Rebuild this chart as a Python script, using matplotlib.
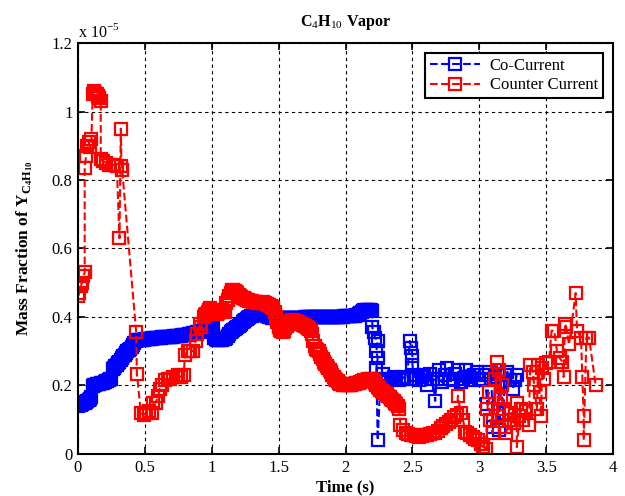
import matplotlib.pyplot as plt

plt.rcParams["font.family"] = ["Liberation Serif", "DejaVu Serif"]
plt.rcParams["mathtext.fontset"] = "custom"
plt.rcParams["mathtext.rm"] = "Liberation Serif"
plt.rcParams["mathtext.bf"] = "Liberation Serif:bold"

# mass fraction values in units of 1e-5
co_t = [0.00, 0.01, 0.02, 0.03, 0.04, 0.05, 0.06, 0.07, 0.08, 0.09,
        0.10, 0.11, 0.12, 0.13, 0.14, 0.15, 0.16, 0.17, 0.18, 0.19,
        0.20, 0.21, 0.22, 0.23, 0.24, 0.25, 0.26, 0.27, 0.28, 0.29,
        0.30, 0.31, 0.32, 0.33, 0.34, 0.35, 0.36, 0.37, 0.38, 0.39,
        0.40, 0.41, 0.42, 0.43, 0.44, 0.45, 0.46, 0.47, 0.48, 0.49,
        0.50, 0.51, 0.52, 0.53, 0.54, 0.55, 0.56, 0.57, 0.58, 0.59,
        0.60, 0.61, 0.62, 0.63, 0.64, 0.65, 0.66, 0.67, 0.68, 0.69,
        0.70, 0.71, 0.72, 0.73, 0.74, 0.75, 0.76, 0.77, 0.78, 0.79,
        0.80, 0.81, 0.82, 0.83, 0.84, 0.85, 0.86, 0.87, 0.88, 0.89,
        0.90, 0.91, 0.92, 0.93, 0.94, 0.95, 0.96, 0.97, 0.98, 0.99,
        1.00, 1.01, 1.02, 1.03, 1.04, 1.05, 1.06, 1.07, 1.08, 1.09,
        1.10, 1.11, 1.12, 1.13, 1.14, 1.15, 1.16, 1.17, 1.18, 1.19,
        1.20, 1.21, 1.22, 1.23, 1.24, 1.25, 1.26, 1.27, 1.28, 1.29,
        1.30, 1.31, 1.32, 1.33, 1.34, 1.35, 1.36, 1.37, 1.38, 1.39,
        1.40, 1.41, 1.42, 1.43, 1.44, 1.45, 1.46, 1.47, 1.48, 1.49,
        1.50, 1.51, 1.52, 1.53, 1.54, 1.55, 1.56, 1.57, 1.58, 1.59,
        1.60, 1.61, 1.62, 1.63, 1.64, 1.65, 1.66, 1.67, 1.68, 1.69,
        1.70, 1.71, 1.72, 1.73, 1.74, 1.75, 1.76, 1.77, 1.78, 1.79,
        1.80, 1.81, 1.82, 1.83, 1.84, 1.85, 1.86, 1.87, 1.88, 1.89,
        1.90, 1.91, 1.92, 1.93, 1.94, 1.95, 1.96, 1.97, 1.98, 1.99,
        2.00, 2.01, 2.02, 2.03, 2.04, 2.05, 2.06, 2.07, 2.08, 2.09,
        2.10, 2.11, 2.12, 2.13, 2.14, 2.15, 2.16, 2.17, 2.18, 2.19,
        2.20, 2.20, 2.21, 2.22, 2.24, 2.23, 2.24, 2.23, 2.24, 2.26,
        2.28, 2.30, 2.32, 2.34, 2.36, 2.38, 2.40, 2.42, 2.44, 2.46,
        2.48, 2.49, 2.50, 2.50, 2.51, 2.53, 2.55, 2.57, 2.59, 2.61,
        2.63, 2.65, 2.67, 2.68, 2.70, 2.72, 2.74, 2.76, 2.78, 2.80,
        2.82, 2.84, 2.86, 2.88, 2.90, 2.92, 2.94, 2.96, 2.98, 3.00,
        3.02, 3.04, 3.06, 3.07, 3.09, 3.10, 3.12, 3.14, 3.15, 3.16,
        3.18, 3.19, 3.21, 3.23, 3.25, 3.27, 3.28]
co_y = [0.140, 0.142, 0.144, 0.146, 0.148, 0.150, 0.152, 0.155, 0.158, 0.162,
        0.165, 0.198, 0.200, 0.202, 0.203, 0.204, 0.205, 0.206, 0.207, 0.208,
        0.210, 0.212, 0.214, 0.216, 0.218, 0.220, 0.248, 0.252, 0.256, 0.260,
        0.265, 0.270, 0.275, 0.280, 0.285, 0.290, 0.295, 0.300, 0.305, 0.308,
        0.312, 0.318, 0.324, 0.330, 0.332, 0.332, 0.333, 0.333, 0.334, 0.334,
        0.335, 0.335, 0.336, 0.336, 0.337, 0.337, 0.338, 0.338, 0.339, 0.339,
        0.340, 0.340, 0.340, 0.341, 0.341, 0.341, 0.342, 0.342, 0.342, 0.343,
        0.343, 0.343, 0.344, 0.344, 0.344, 0.345, 0.345, 0.345, 0.346, 0.346,
        0.347, 0.347, 0.348, 0.349, 0.350, 0.351, 0.352, 0.353, 0.354, 0.355,
        0.356, 0.357, 0.358, 0.359, 0.360, 0.361, 0.362, 0.363, 0.364, 0.365,
        0.366, 0.367, 0.340, 0.336, 0.334, 0.333, 0.333, 0.333, 0.334, 0.335,
        0.337, 0.340, 0.344, 0.350, 0.356, 0.360, 0.363, 0.366, 0.369, 0.372,
        0.375, 0.378, 0.381, 0.384, 0.387, 0.390, 0.393, 0.396, 0.399, 0.402,
        0.404, 0.406, 0.408, 0.410, 0.411, 0.412, 0.412, 0.411, 0.410, 0.408,
        0.406, 0.404, 0.402, 0.400, 0.399, 0.398, 0.398, 0.398, 0.398, 0.398,
        0.398, 0.398, 0.397, 0.397, 0.397, 0.397, 0.397, 0.397, 0.397, 0.398,
        0.398, 0.398, 0.398, 0.398, 0.398, 0.398, 0.398, 0.398, 0.398, 0.398,
        0.399, 0.399, 0.399, 0.399, 0.399, 0.399, 0.399, 0.399, 0.399, 0.399,
        0.400, 0.400, 0.400, 0.400, 0.400, 0.400, 0.400, 0.400, 0.400, 0.400,
        0.401, 0.401, 0.401, 0.401, 0.401, 0.401, 0.401, 0.401, 0.401, 0.402,
        0.402, 0.402, 0.402, 0.403, 0.403, 0.403, 0.404, 0.404, 0.405, 0.406,
        0.410, 0.413, 0.416, 0.418, 0.419, 0.420, 0.420, 0.420, 0.420, 0.419,
        0.418, 0.370, 0.355, 0.340, 0.330, 0.300, 0.280, 0.250, 0.040, 0.210,
        0.235, 0.220, 0.215, 0.220, 0.225, 0.220, 0.215, 0.220, 0.225, 0.220,
        0.330, 0.310, 0.285, 0.260, 0.230, 0.220, 0.215, 0.225, 0.230, 0.200,
        0.235, 0.220, 0.155, 0.220, 0.245, 0.210, 0.230, 0.250, 0.220, 0.215,
        0.235, 0.245, 0.210, 0.220, 0.245, 0.225, 0.215, 0.230, 0.240, 0.220,
        0.215, 0.230, 0.145, 0.240, 0.220, 0.080, 0.225, 0.235, 0.070, 0.210,
        0.120, 0.230, 0.240, 0.215, 0.190, 0.215, 0.230]

counter_t = [0.00, 0.01, 0.02, 0.03, 0.04, 0.05, 0.05, 0.06, 0.07, 0.08,
             0.09, 0.10, 0.11, 0.12, 0.13, 0.14, 0.15, 0.16, 0.17, 0.17,
             0.19, 0.21, 0.23, 0.26, 0.29, 0.31, 0.32, 0.325, 0.33, 0.435,
             0.44, 0.47, 0.49, 0.51, 0.53, 0.55, 0.56, 0.58, 0.60, 0.61,
             0.63, 0.65, 0.67, 0.69, 0.71, 0.73, 0.75, 0.77, 0.79, 0.80,
             0.82, 0.84, 0.86, 0.88, 0.89, 0.91, 0.92,
             0.94, 0.95, 0.96, 0.97, 0.98, 0.99,
             1.00, 1.01, 1.02, 1.03, 1.04, 1.05, 1.06, 1.07, 1.08, 1.09,
             1.10, 1.11, 1.12, 1.13, 1.14, 1.15, 1.16, 1.17, 1.18, 1.19,
             1.20, 1.21, 1.22, 1.23, 1.24, 1.25, 1.26, 1.27, 1.28, 1.29,
             1.30, 1.31, 1.32, 1.33, 1.34, 1.35, 1.36, 1.37, 1.38, 1.39,
             1.40, 1.41, 1.42, 1.43, 1.44, 1.45, 1.46, 1.47, 1.48, 1.49,
             1.50, 1.51, 1.52, 1.53, 1.54, 1.55, 1.56, 1.57, 1.58, 1.59,
             1.60, 1.61, 1.62, 1.63, 1.64, 1.65, 1.66, 1.67, 1.68, 1.69,
             1.70, 1.71, 1.72, 1.73, 1.74, 1.75, 1.76, 1.77, 1.78, 1.79,
             1.80, 1.81, 1.82, 1.83, 1.84, 1.85, 1.86, 1.87, 1.88, 1.89,
             1.90, 1.91, 1.92, 1.93, 1.94, 1.95, 1.96, 1.97, 1.98, 1.99,
             2.00, 2.01, 2.02, 2.03, 2.04, 2.05, 2.06, 2.07, 2.08, 2.09,
             2.10, 2.11, 2.12, 2.13, 2.14, 2.15, 2.16, 2.17, 2.18, 2.19,
             2.20, 2.21, 2.22, 2.23, 2.24, 2.25, 2.26, 2.27, 2.28, 2.29,
             2.30, 2.31, 2.32, 2.33, 2.34, 2.35, 2.36, 2.37, 2.38, 2.39,
             2.40, 2.41, 2.43, 2.45, 2.47, 2.49, 2.51, 2.53, 2.55, 2.57,
             2.59, 2.61, 2.63, 2.65, 2.67, 2.69, 2.71, 2.73, 2.75, 2.77,
             2.79, 2.81, 2.83, 2.84, 2.86, 2.88, 2.89, 2.91, 2.93, 2.95,
             2.97, 2.99, 3.01, 3.03, 3.05,
             3.06, 3.07, 3.08, 3.10, 3.12, 3.13, 3.14, 3.15, 3.16, 3.17,
             3.18, 3.19, 3.20, 3.22, 3.24, 3.26, 3.28, 3.28, 3.30, 3.31,
             3.33, 3.35, 3.37, 3.38, 3.40, 3.41, 3.43, 3.44, 3.45, 3.46,
             3.47, 3.48, 3.50, 3.52, 3.54, 3.56, 3.58, 3.60, 3.62, 3.63,
             3.64, 3.65, 3.67, 3.72, 3.73, 3.76, 3.77, 3.78, 3.78, 3.80,
             3.82, 3.87]
counter_y = [0.460, 0.470, 0.490, 0.500, 0.520, 0.530, 0.835, 0.870, 0.900, 0.910,
             0.895, 0.920, 1.050, 1.060, 1.055, 1.050, 1.045, 1.040, 1.030, 0.860,
             0.855, 0.850, 0.845, 0.845, 0.840, 0.630, 0.950, 0.840, 0.830, 0.355,
             0.235, 0.120, 0.115, 0.120, 0.125, 0.120, 0.150, 0.150, 0.170, 0.190,
             0.200, 0.215, 0.220, 0.220, 0.225, 0.225, 0.230, 0.225, 0.230, 0.290,
             0.300, 0.300, 0.300, 0.330, 0.350, 0.380, 0.370,
             0.400, 0.405, 0.410, 0.415, 0.420, 0.425,
             0.420, 0.418, 0.415, 0.412, 0.410, 0.412, 0.415, 0.418, 0.420, 0.418,
             0.415, 0.440, 0.450, 0.460, 0.470, 0.480, 0.478, 0.475, 0.472, 0.470,
             0.465, 0.460, 0.458, 0.456, 0.454, 0.452, 0.450, 0.449, 0.448, 0.447,
             0.446, 0.445, 0.444, 0.443, 0.442, 0.441, 0.440, 0.442, 0.444, 0.442,
             0.440, 0.438, 0.436, 0.434, 0.432, 0.430, 0.425, 0.415, 0.400, 0.385,
             0.370, 0.362, 0.358, 0.355, 0.360, 0.368, 0.375, 0.380, 0.385, 0.388,
             0.390, 0.390, 0.388, 0.386, 0.384, 0.382, 0.380, 0.379, 0.378, 0.376,
             0.374, 0.372, 0.368, 0.364, 0.358, 0.350, 0.330, 0.315, 0.308, 0.305,
             0.300, 0.292, 0.284, 0.276, 0.268, 0.262, 0.256, 0.250, 0.244, 0.238,
             0.232, 0.226, 0.220, 0.216, 0.212, 0.208, 0.205, 0.203, 0.201, 0.200,
             0.200, 0.200, 0.200, 0.201, 0.202, 0.203, 0.204, 0.205, 0.206, 0.207,
             0.208, 0.210, 0.212, 0.214, 0.215, 0.216, 0.217, 0.218, 0.219, 0.220,
             0.218, 0.214, 0.208, 0.202, 0.196, 0.192, 0.188, 0.184, 0.180, 0.178,
             0.176, 0.174, 0.170, 0.166, 0.162, 0.158, 0.154, 0.150, 0.146, 0.140,
             0.130, 0.085, 0.070, 0.060, 0.058, 0.055, 0.055, 0.052, 0.050, 0.052,
             0.055, 0.055, 0.058, 0.060, 0.062, 0.068, 0.075, 0.082, 0.088, 0.094,
             0.100, 0.108, 0.115, 0.170, 0.120, 0.100, 0.065, 0.060, 0.055, 0.050,
             0.045, 0.040, 0.030, 0.020, 0.015,
             0.130, 0.180, 0.100, 0.060, 0.220, 0.270, 0.110, 0.245, 0.160, 0.200,
             0.130, 0.080, 0.060, 0.100, 0.120, 0.090, 0.150, 0.020, 0.110, 0.130,
             0.100, 0.125, 0.085, 0.260, 0.240, 0.200, 0.130, 0.260, 0.180, 0.110,
             0.250, 0.220, 0.265, 0.270, 0.360, 0.360, 0.300, 0.280, 0.270, 0.225,
             0.380, 0.370, 0.320, 0.470, 0.360, 0.340, 0.225, 0.110, 0.040, 0.340,
             0.340, 0.200]

x_ticks = [0, 0.5, 1, 1.5, 2, 2.5, 3, 3.5, 4]
x_labels = ["0", "0.5", "1", "1.5", "2", "2.5", "3", "3.5", "4"]
y_ticks = [0, 0.2, 0.4, 0.6, 0.8, 1.0, 1.2]
y_labels = ["0", "0.2", "0.4", "0.6", "0.8", "1", "1.2"]

fig = plt.figure(figsize=(6.25, 4.96), dpi=100)
ax = fig.add_axes([0.1248, 0.0847, 0.8562, 0.8286])

mk = dict(marker="s", markerfacecolor="none", markersize=8, markeredgewidth=1.6,
          linestyle="--", linewidth=1.5)
ax.plot(co_t, co_y, color="#0000ff", label="Co-Current", **mk)
ax.plot(counter_t, counter_y, color="#ff0000", label="Counter Current", **mk)

ax.set_xlim(0, 4)
ax.set_ylim(0, 1.2)
ax.set_xticks(x_ticks)
ax.set_xticklabels(x_labels)
ax.set_yticks(y_ticks)
ax.set_yticklabels(y_labels)
ax.tick_params(direction="in", length=5, width=1.2, labelsize=12, top=True, right=True, pad=4)
ax.grid(True, color="black", linestyle=(0, (3, 3)), linewidth=0.8)
for s in ax.spines.values():
    s.set_linewidth(1.5)

ax.text(0.0, 1.005, r"x 10$^{-5}$", transform=ax.transAxes, fontsize=11.5, va="bottom", ha="left")
ax.set_title(r"C$_4$H$_{10}$ Vapor", fontsize=11.5, fontweight="bold", pad=12)
ax.set_xlabel("Time (s)", fontsize=12, fontweight="bold", labelpad=3)
ax.set_ylabel(r"Mass Fraction of Y$_{\mathbf{C_4H_{10}}}$", fontsize=12.5, fontweight="bold", labelpad=12)

leg = ax.legend(loc="upper right", fontsize=12, fancybox=False, framealpha=1,
                edgecolor="black", borderaxespad=0.6, handlelength=3.0,
                labelspacing=0.2, borderpad=0.3, handletextpad=0.6)
leg.get_frame().set_linewidth(1.5)

fig.savefig("out.png", dpi=100)
